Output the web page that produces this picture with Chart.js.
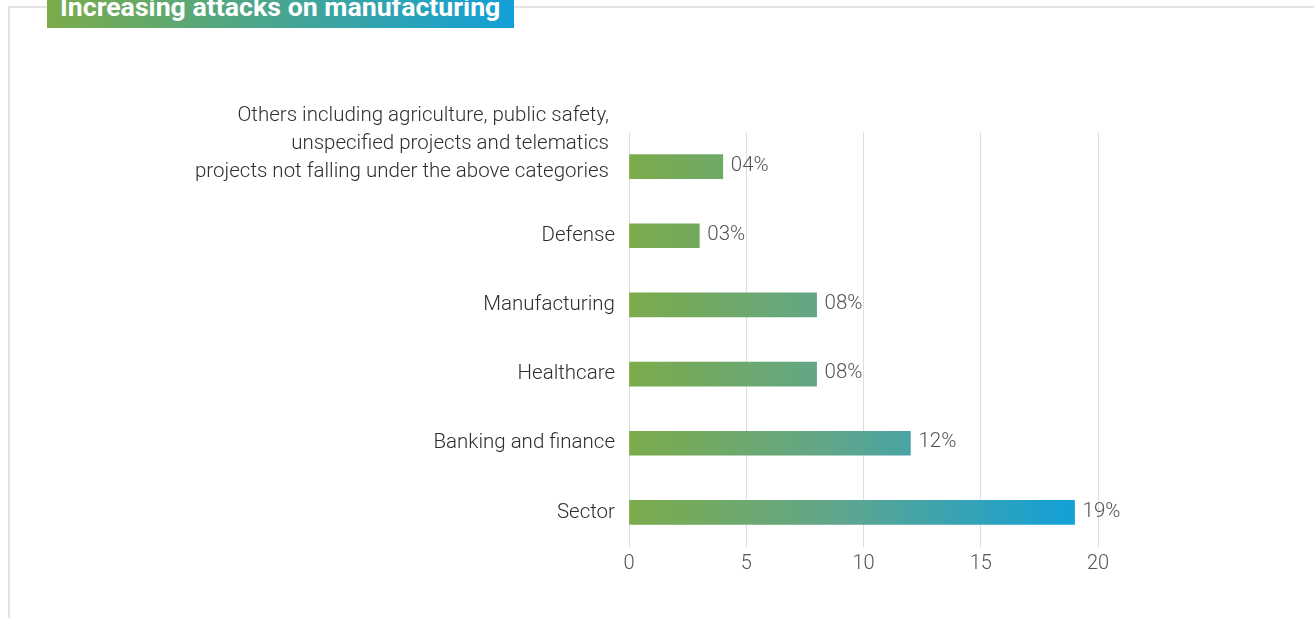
<!DOCTYPE html>
<html lang="en">
<head>
  <meta charset="UTF-8">
  <title>Increasing attacks on manufacturing</title>
  <script src="https://cdn.jsdelivr.net/npm/chart.js@4.4.1/dist/chart.umd.min.js"></script>
  <style>
    html, body { margin: 0; padding: 0; background: #ffffff; overflow: hidden; }
    body { width: 1314px; height: 618px; position: relative; font-family: Roboto, "Noto Sans", sans-serif; }
    /* light frame around the card, cut by the window on right and bottom */
    #frame {
      position: absolute; left: 8px; top: 6px; width: 1400px; height: 700px;
      border-left: 2px solid #e3e3e3; border-top: 2px solid #e3e3e3;
    }
    #badge {
      position: absolute; left: 47px; top: -14px; width: 467px; height: 42px;
      background: linear-gradient(to right, #7bab4a, #12a0d8);
      color: #ffffff; font-weight: bold; font-size: 26.7px; line-height: 42px;
      padding-left: 13px; box-sizing: border-box; white-space: nowrap;
    }
    #chart-box { position: absolute; left: 0; top: 0; width: 1314px; height: 618px; }
  </style>
</head>
<body>
  <div id="frame"></div>
  <div id="badge">Increasing attacks on manufacturing</div>
  <div id="chart-box"><canvas id="sector-chart"></canvas></div>

  <script>
    // categories top to bottom
    var sectors = [
      ['Others including agriculture, public safety,', 'unspecified projects and telematics', 'projects not falling under the above categories'],
      'Defense',
      'Manufacturing',
      'Healthcare',
      'Banking and finance',
      'Sector'
    ];
    var shares = [4, 3, 8, 8, 12, 19];
    var shareLabels = ['04%', '03%', '08%', '08%', '12%', '19%'];
    var xTicks = [0, 5, 10, 15, 20];

    var labelFont = '300 20.5px Roboto';

    // gradient across the bars, green at zero to blue at the longest bar
    function barGradient(context) {
      var chart = context.chart;
      var x = chart.scales.x;
      if (!x || !chart.chartArea) return '#7bab4a';
      var g = chart.ctx.createLinearGradient(x.getPixelForValue(0), 0, x.getPixelForValue(Math.max.apply(null, shares)), 0);
      g.addColorStop(0, '#7bab4a');
      g.addColorStop(0.45, '#62a68a');
      g.addColorStop(1, '#12a0d8');
      return g;
    }

    // draws the category names left of the axis and the value labels after the bars
    var textPlugin = {
      id: 'texts',
      afterDatasetsDraw: function(chart) {
        var ctx = chart.ctx;
        var y = chart.scales.y;
        var meta = chart.getDatasetMeta(0);
        ctx.save();
        ctx.font = labelFont;
        ctx.textBaseline = 'middle';

        ctx.fillStyle = '#2e2e2e';
        ctx.textAlign = 'right';
        sectors.forEach(function(name, i) {
          var cy = y.getPixelForValue(i);
          var multi = Array.isArray(name);
          var lines = multi ? name : [name];
          var lx = chart.chartArea.left - (multi ? 20 : 14);
          for (var k = 0; k < lines.length; k++) {
            var off = (lines.length - 1 - k) * 28;
            ctx.fillText(lines[k], lx, cy - off + (multi ? 5 : 0));
          }
        });

        ctx.fillStyle = '#555555';
        ctx.textAlign = 'left';
        meta.data.forEach(function(bar, i) {
          ctx.fillText(shareLabels[i], bar.x + 8, bar.y - 1);
        });
        ctx.restore();
      }
    };

    document.addEventListener('DOMContentLoaded', function() {
      var ctx = document.getElementById('sector-chart').getContext('2d');
      new Chart(ctx, {
        type: 'bar',
        data: {
          labels: sectors,
          datasets: [{
            label: 'Share of attacks',
            data: shares,
            backgroundColor: barGradient,
            borderWidth: 0,
            barThickness: 24
          }]
        },
        options: {
          indexAxis: 'y',
          responsive: true,
          maintainAspectRatio: false,
          animation: false,
          layout: { padding: { left: 0, right: 216, top: 132, bottom: 37 } },
          plugins: {
            legend: { display: false },
            tooltip: { enabled: false }
          },
          scales: {
            x: {
              min: 0,
              max: 20,
              afterBuildTicks: function(s) { s.ticks = xTicks.map(function(v) { return { value: v }; }); },
              grid: { color: '#dddddd', lineWidth: 1, tickLength: 0, drawTicks: false },
              border: { display: false },
              ticks: { color: '#555555', font: { family: 'Roboto', size: 20, weight: '300' }, padding: 5 }
            },
            y: {
              grid: { display: false },
              border: { display: false },
              ticks: { display: false },
              afterFit: function(s) { s.width = 629; }
            }
          }
        },
        plugins: [textPlugin]
      });
    });
  </script>
</body>
</html>
